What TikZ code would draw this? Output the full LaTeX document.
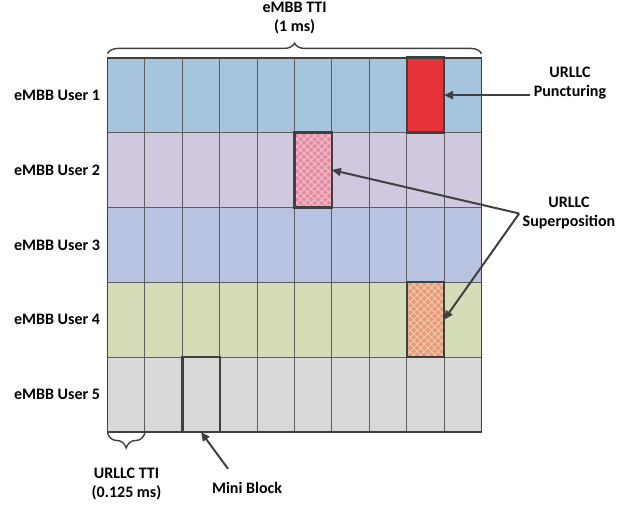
\documentclass[tikz,border=0pt]{standalone}
\usepackage{fontspec}
\setmainfont{Carlito}
\usetikzlibrary{positioning,arrows.meta,decorations.pathreplacing,patterns.meta}
\definecolor{userA}{HTML}{A7C4DE}
\definecolor{userB}{HTML}{CFC8DE}
\definecolor{userC}{HTML}{B8C2E1}
\definecolor{userD}{HTML}{D5DDB8}
\definecolor{userE}{HTML}{D9D9D9}
\definecolor{gridgray}{HTML}{5E5E5E}
\definecolor{linegray}{HTML}{404040}
\definecolor{urllcred}{HTML}{E8323A}
\definecolor{pinkbase}{HTML}{E58CA2}
\definecolor{pinkline}{HTML}{F2BFCB}
\definecolor{orangebase}{HTML}{E59A7C}
\definecolor{orangeline}{HTML}{F0C9A8}
\tikzset{
  cell/.style={draw=gridgray, line width=0.9pt, minimum width=37.4pt,
    minimum height=74.86pt, inner sep=0pt, outer sep=0pt},
  lbl/.style={font=\fontsize{16}{19}\selectfont\bfseries, align=center},
  arr/.style={draw=linegray, line width=2pt, -{Triangle[length=9pt,width=8pt]}},
  brc/.style={draw=linegray, line width=1.4pt, decorate,
    decoration={brace, amplitude=#1}},
  blk/.style={draw=linegray, line width=2.4pt},
  hatch/.style={postaction={pattern={Lines[angle=45,distance=5pt,line width=1pt]}, pattern color=#1},
    postaction={pattern={Lines[angle=-45,distance=5pt,line width=1pt]}, pattern color=#1}}
}
\begin{document}
\begin{tikzpicture}[x=1pt, y=1pt]
    \useasboundingbox (0,0) rectangle (618,507);
    % resource grid
    \foreach \r/\col in {1/userA, 2/userB, 3/userC, 4/userD, 5/userE}
      \foreach \k in {1,...,10}
        \node[cell, fill=\col] (c-\r-\k) at ({107.5+(\k-0.5)*37.4}, {449.3-(\r-0.5)*74.86}) {};
    \draw[line width=1.8pt, draw=linegray] (c-1-1.north west) rectangle (c-5-10.south east);
    % urllc blocks
    \fill[urllcred] (c-1-9.north west) rectangle (c-1-9.south east);
    \draw[blk] (c-1-9.north west) rectangle (c-1-9.south east);
    \fill[pinkbase, hatch=pinkline] (c-2-6.north west) rectangle (c-2-6.south east);
    \draw[blk] (c-2-6.north west) rectangle (c-2-6.south east);
    \fill[orangebase, hatch=orangeline] (c-4-9.north west) rectangle (c-4-9.south east);
    \draw[blk] (c-4-9.north west) rectangle (c-4-9.south east);
    \draw[blk] (c-5-3.north west) rectangle (c-5-3.south east);
    % users
    \foreach \r in {1,...,5}
      \node[lbl, left=4pt of c-\r-1] (u\r) {eMBB User \r};
    % braces
    \draw[brc=10.5pt] ([yshift=4pt]c-1-1.north west) -- ([yshift=4pt]c-1-10.north east);
    \node[lbl] (tti) at (294.6,488.5) {eMBB TTI\\(1 ms)};
    \draw[brc=15pt] ([yshift=-1pt]c-5-1.south east) -- ([yshift=-1pt]c-5-1.south west);
    \node[lbl] (mtti) at (126.5,23) {URLLC TTI\\(0.125 ms)};
    % labels and arrows
    \node[lbl] (punct) at (570,424) {URLLC\\Puncturing};
    \draw[arr] (punct.west |- c-1-9.east) -- (c-1-9.east);
    \node[lbl] (super) at (569,293.5) {URLLC\\Superposition};
    \draw[arr] (super.west) -- (c-2-6.east);
    \draw[arr] (super.west) -- (c-4-9.east);
    \node[lbl] (mini) at (247,19) {Mini Block};
    \draw[arr] ([xshift=-19pt,yshift=10pt]mini.north) -- (c-5-3.south);
\end{tikzpicture}
\end{document}
